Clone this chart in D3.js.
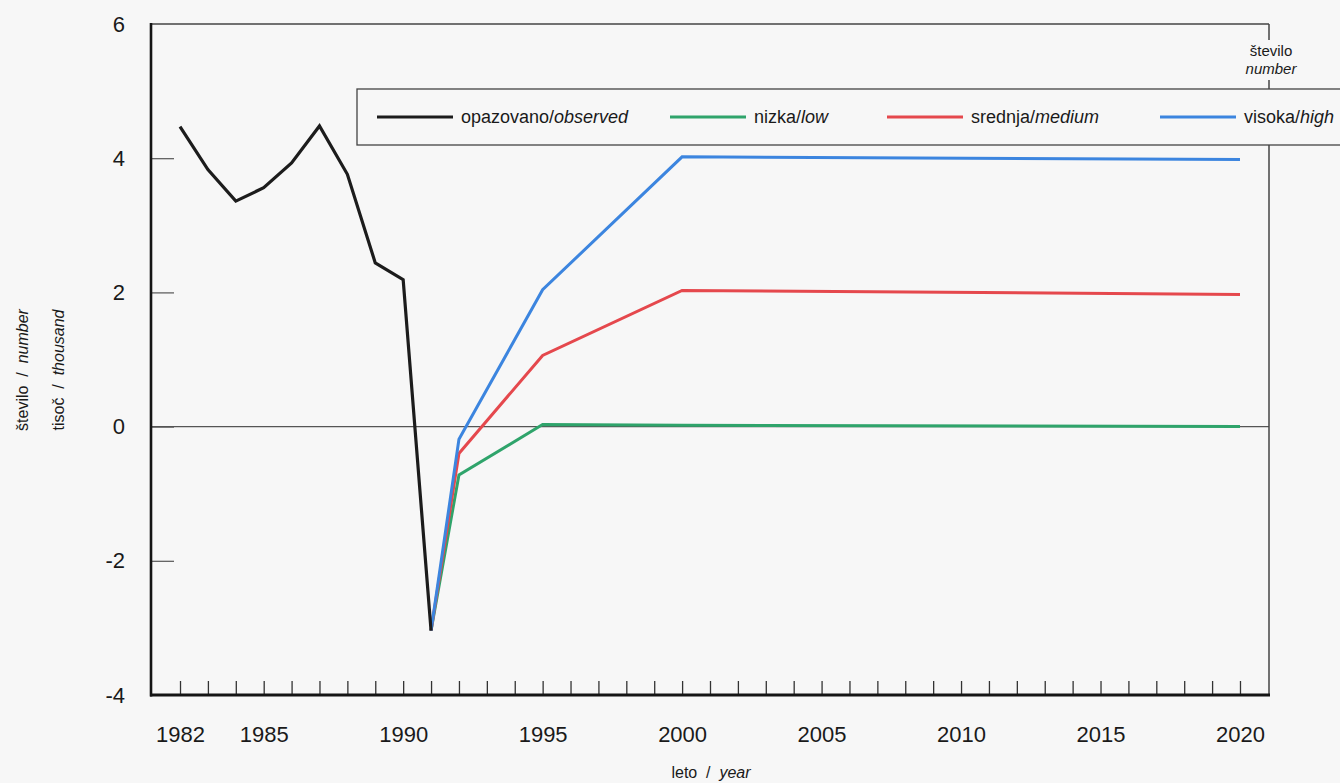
<!DOCTYPE html>
<html>
<head>
<meta charset="utf-8">
<script src="https://cdn.jsdelivr.net/npm/d3@7/dist/d3.min.js"></script>
<style>
  html, body { margin: 0; padding: 0; background: #f7f7f7; }
  svg { display: block; }
  text { font-family: "Liberation Sans Narrow", "Arial Narrow", "Liberation Sans", Arial, sans-serif; fill: #1a1a1a; white-space: pre; }
</style>
</head>
<body>
<svg id="chart" width="1340" height="783"></svg>
<script>
// ---- data ----
const observedYears = [1982, 1983, 1984, 1985, 1986, 1987, 1988, 1989, 1990, 1991];
const observedValues = [4.47, 3.83, 3.36, 3.56, 3.93, 4.48, 3.76, 2.44, 2.19, -3.04];

const projectionYears = [1991, 1992, 1995, 2000, 2020];
const lowValues    = [-3.04, -0.72, 0.03, 0.02, 0.00];
const mediumValues = [-3.04, -0.40, 1.06, 2.03, 1.97];
const highValues   = [-3.04, -0.19, 2.04, 4.02, 3.98];

const xTickLabels = [1982, 1985, 1990, 1995, 2000, 2005, 2010, 2015, 2020];
const yTickLabels = [6, 4, 2, 0, -2, -4];

const seriesNames = ["opazovano", "nizka", "srednja", "visoka"];
const seriesNamesEn = ["observed", "low", "medium", "high"];
const seriesColors = ["#1c1c1c", "#2fa46b", "#e5484d", "#3c85df"];

// ---- layout ----
const svg = d3.select("#chart");
const L = 151, R = 1269, T = 24, B = 695;
const NB = "\u00A0";

const x = d3.scaleLinear().domain([1980.96, 2021.04]).range([L, R]);
const y = d3.scaleLinear().domain([-4, 6]).range([B, T]);

// zero line
svg.append("line")
  .attr("x1", L).attr("x2", R)
  .attr("y1", y(0)).attr("y2", y(0))
  .attr("stroke", "#555").attr("stroke-width", 1.2);

// top border
svg.append("line").attr("x1", L).attr("x2", R).attr("y1", T).attr("y2", T)
  .attr("stroke", "#444").attr("stroke-width", 1.3);
// right border (broken by label)
svg.append("line").attr("x1", R).attr("x2", R).attr("y1", T).attr("y2", 40)
  .attr("stroke", "#444").attr("stroke-width", 1.5);
svg.append("line").attr("x1", R).attr("x2", R).attr("y1", 80).attr("y2", B)
  .attr("stroke", "#444").attr("stroke-width", 1.5);

// y axis ticks (inward)
const yAxis = d3.axisLeft(y).tickValues(yTickLabels).tickSize(-23).tickPadding(26)
  .tickFormat(d => String(d));
const yg = svg.append("g").attr("transform", `translate(${L},0)`).call(yAxis);
yg.select(".domain").remove();
yg.selectAll(".tick line").attr("stroke", "#555").attr("stroke-width", 1.2)
  .filter(d => d === 6 || d === -4).remove();
yg.selectAll(".tick text").style("font-family", "'Liberation Sans', Arial, sans-serif")
  .style("font-size", "22px").attr("fill", "#1a1a1a");

// x axis ticks (inward, every year)
const years = d3.range(1982, 2021);
const xAxisTicks = d3.axisBottom(x).tickValues(years).tickSize(-14).tickFormat("");
const xg = svg.append("g").attr("transform", `translate(0,${B})`).call(xAxisTicks);
xg.select(".domain").remove();
xg.selectAll(".tick line").attr("stroke", "#333").attr("stroke-width", 1.3);

const xLabels = d3.axisBottom(x).tickValues(xTickLabels).tickSize(0).tickPadding(31)
  .tickFormat(d3.format("d"));
const xl = svg.append("g").attr("transform", `translate(0,${B})`).call(xLabels);
xl.select(".domain").remove();
xl.selectAll(".tick text").style("font-family", "'Liberation Sans', Arial, sans-serif")
  .style("font-size", "22px").attr("fill", "#1a1a1a");

// axis lines
svg.append("line").attr("x1", L).attr("x2", L).attr("y1", T - 1).attr("y2", B + 1.5)
  .attr("stroke", "#151515").attr("stroke-width", 2.6);
svg.append("line").attr("x1", L - 1).attr("x2", R + 1).attr("y1", B).attr("y2", B)
  .attr("stroke", "#151515").attr("stroke-width", 3);

// lines
const line = d3.line().x(d => x(d[0])).y(d => y(d[1]));
const projSeries = [
  { vals: lowValues, color: seriesColors[1] },
  { vals: mediumValues, color: seriesColors[2] },
  { vals: highValues, color: seriesColors[3] }
];
projSeries.forEach(s => {
  svg.append("path")
    .datum(projectionYears.map((yr, i) => [yr, s.vals[i]]))
    .attr("d", line)
    .attr("fill", "none").attr("stroke", s.color)
    .attr("stroke-width", 3).attr("stroke-linejoin", "miter");
});
svg.append("path")
  .datum(observedYears.map((yr, i) => [yr, observedValues[i]]))
  .attr("d", line)
  .attr("fill", "none").attr("stroke", seriesColors[0])
  .attr("stroke-width", 3.2).attr("stroke-linejoin", "miter");

// legend
svg.append("rect")
  .attr("x", 357).attr("y", 89).attr("width", 1000).attr("height", 56)
  .attr("fill", "#f7f7f7").attr("stroke", "#444").attr("stroke-width", 1.3);
const legendX = [377, 670, 887, 1160];
seriesNames.forEach((n, i) => {
  svg.append("line")
    .attr("x1", legendX[i]).attr("x2", legendX[i] + 76)
    .attr("y1", 117).attr("y2", 117)
    .attr("stroke", seriesColors[i]).attr("stroke-width", 3.2);
  const t = svg.append("text")
    .attr("x", legendX[i] + 84).attr("y", 123)
    .style("font-size", "18px");
  t.append("tspan").text(n + "/");
  t.append("tspan").style("font-style", "italic").text(seriesNamesEn[i]);
});

// right-top label
svg.append("text").attr("x", R + 2).attr("y", 56).attr("text-anchor", "middle")
  .style("font-size", "15px").text("število");
svg.append("text").attr("x", R + 2).attr("y", 74).attr("text-anchor", "middle")
  .style("font-size", "15px").style("font-style", "italic").text("number");

// y axis titles (rotated)
const yt1 = svg.append("text")
  .attr("transform", "translate(28,370) rotate(-90)")
  .attr("text-anchor", "middle").style("font-size", "16px");
yt1.append("tspan").text("število" + NB + NB + "/" + NB + NB);
yt1.append("tspan").style("font-style", "italic").text("number");
const yt2 = svg.append("text")
  .attr("transform", "translate(64,370) rotate(-90)")
  .attr("text-anchor", "middle").style("font-size", "16px");
yt2.append("tspan").text("tisoč" + NB + NB + "/" + NB + NB);
yt2.append("tspan").style("font-style", "italic").text("thousand");

// x axis title
const xt = svg.append("text").attr("x", 711).attr("y", 778)
  .attr("text-anchor", "middle").style("font-size", "16px");
xt.append("tspan").text("leto" + NB + NB + "/" + NB + NB);
xt.append("tspan").style("font-style", "italic").text("year");
</script>
</body>
</html>
